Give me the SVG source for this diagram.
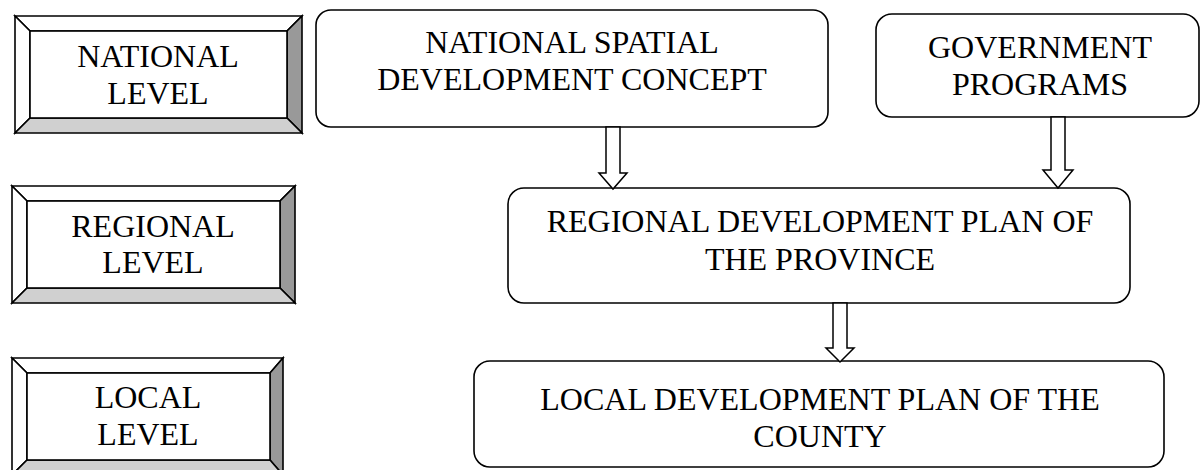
<svg xmlns="http://www.w3.org/2000/svg" width="1201" height="470" viewBox="0 0 1201 470">
<style>
.t{font-family:"Liberation Serif","Times New Roman",serif;font-size:32px;fill:#000;text-anchor:middle}
.b{fill:#fff;stroke:#000;stroke-width:1.6}
.bv{stroke:#000;stroke-width:1.6;stroke-linejoin:miter}
.w{fill:#fff}.r{fill:#999}.d{fill:#d0d0d0}
.ar{fill:#fff;stroke:#000;stroke-width:1.5;stroke-linejoin:miter}
</style>
<rect width="1201" height="470" fill="#fff"/>
<g id="national-level">
<polygon class="bv w" points="15,16 302,16 287,31 30,31"/>
<polygon class="bv w" points="15,16 30,31 30,118 15,133"/>
<polygon class="bv r" points="302,16 302,133 287,118 287,31"/>
<polygon class="bv d" points="15,133 30,118 287,118 302,133"/>
<rect class="bv" fill="#fff" x="30" y="31" width="257" height="87"/>
<text class="t" x="158" y="67">NATIONAL</text>
<text class="t" x="158" y="104">LEVEL</text>
</g>
<g id="regional-level">
<polygon class="bv w" points="12,186 295,186 280,201 27,201"/>
<polygon class="bv w" points="12,186 27,201 27,288 12,303"/>
<polygon class="bv r" points="295,186 295,303 280,288 280,201"/>
<polygon class="bv d" points="12,303 27,288 280,288 295,303"/>
<rect class="bv" fill="#fff" x="27" y="201" width="253" height="87"/>
<text class="t" x="153" y="237">REGIONAL</text>
<text class="t" x="153" y="273">LEVEL</text>
</g>
<g id="local-level">
<polygon class="bv w" points="12,358 283,358 270,373 27,373"/>
<polygon class="bv w" points="12,358 27,373 27,460 12,475"/>
<polygon class="bv r" points="283,358 283,475 270,460 270,373"/>
<polygon class="bv d" points="12,475 27,460 270,460 283,475"/>
<rect class="bv" fill="#fff" x="27" y="373" width="243" height="87"/>
<text class="t" x="148" y="408">LOCAL</text>
<text class="t" x="148" y="445">LEVEL</text>
</g>
<g id="nsdc">
<rect class="b" x="316" y="10" width="512" height="117" rx="15"/>
<text class="t" x="572" y="53">NATIONAL SPATIAL</text>
<text class="t" x="572" y="90">DEVELOPMENT CONCEPT</text>
</g>
<g id="gov">
<rect class="b" x="876" y="14" width="323" height="103" rx="16"/>
<text class="t" x="1040" y="58">GOVERNMENT</text>
<text class="t" x="1040" y="95">PROGRAMS</text>
</g>
<g id="regional-plan">
<rect class="b" x="508" y="188" width="622" height="115" rx="16"/>
<text class="t" x="820" y="232">REGIONAL DEVELOPMENT PLAN OF</text>
<text class="t" x="820" y="270">THE PROVINCE</text>
</g>
<g id="local-plan">
<rect class="b" x="474" y="361" width="690" height="106" rx="16"/>
<text class="t" x="820" y="410">LOCAL DEVELOPMENT PLAN OF THE</text>
<text class="t" x="820" y="447">COUNTY</text>
</g>
<g id="connectors">
<polygon class="ar" points="606,127 620,127 620,173 627,173 613,189 599,173 606,173"/>
<polygon class="ar" points="1051,117 1065,117 1065,170 1073,170 1058,188 1043,170 1051,170"/>
<polygon class="ar" points="833,303 847,303 847,348 854,348 840,362 826,348 833,348"/>
</g>
</svg>
